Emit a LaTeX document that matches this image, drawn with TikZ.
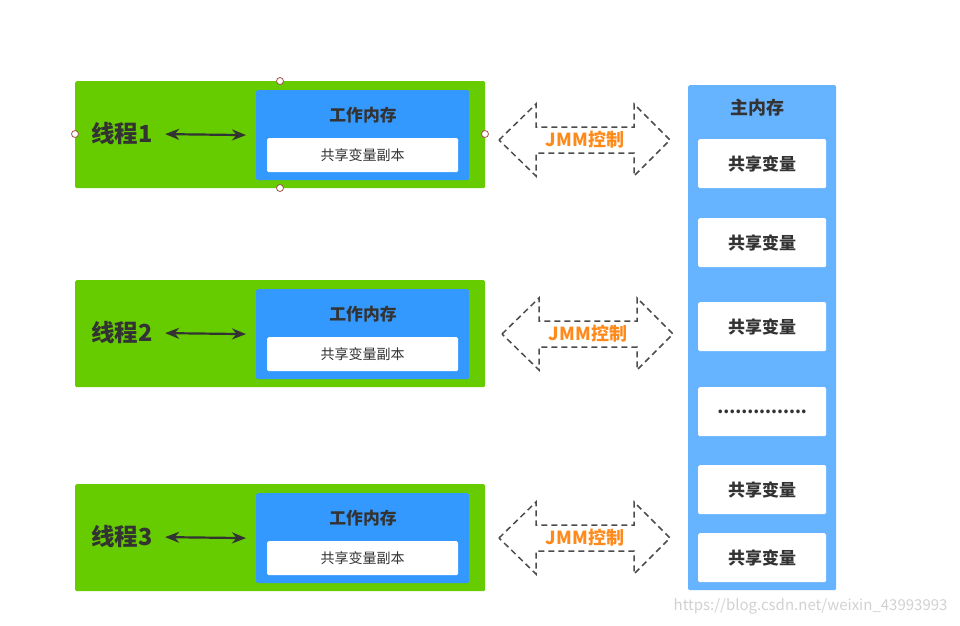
\documentclass[tikz,border=0pt]{standalone}
\usepackage{fontspec}
\newfontfamily\cjk{Noto Sans CJK SC}
\usetikzlibrary{arrows.meta}
\definecolor{thgreen}{HTML}{66CC00}
\definecolor{wmblue}{HTML}{3399FF}
\definecolor{mmblue}{HTML}{66B3FF}
\definecolor{txt}{HTML}{333333}
\definecolor{jmm}{HTML}{FF8A1C}
\definecolor{handle}{HTML}{A0524F}
\newcommand{\fs}[1]{\fontsize{#1}{#1}\selectfont}
\newcommand{\dotrow}{...............}

\begin{document}
\begin{tikzpicture}[x=1pt, y=-1pt, font=\cjk, text=txt,
    box/.style={draw=none, inner sep=0pt, anchor=north west, rounded corners=1.5pt},
    biarrow/.style={{Stealth[length=14pt,width=11pt]}-{Stealth[length=14pt,width=11pt]},
      line width=2.2pt, draw=txt, shorten <=9pt, shorten >=10pt},
    jmmarrow/.style={draw=black!70, line width=1.5pt, dash pattern=on 6pt off 4pt},
    sharebox/.style={box, fill=white, minimum width=128, minimum height=49,
      font=\cjk\bfseries\fs{17}}]
    \useasboundingbox (0,0) rectangle (960,625);
    % threads with their working memory
    \foreach \i/\y in {1/81, 2/280, 3/484}{
      \begin{scope}[shift={(0,\y)}]
        \node[box, fill=thgreen, minimum width=410, minimum height=107] (th\i) at (75,0) {};
        \node[box, fill=wmblue, minimum width=213, minimum height=90] (wm\i) at (256,9) {};
        \node[font=\cjk\bfseries\fs{16.8}] (wt\i) at (363,34) {工作内存};
        \node[box, fill=white, minimum width=191, minimum height=34,
          font=\cjk\fs{14}] (cp\i) at (267,57) {共享变量副本};
        \node[font=\cjk\bfseries\fs{23.5}] (nm\i) at (122,53) {线程\i};
        \draw[biarrow] (nm\i.east) -- (wm\i.west);
      \end{scope}
    }
    % selection handles
    \foreach \x/\y in {280/81, 75/134, 485/134, 280/188}{
      \draw[handle, fill=white, line width=0.8pt] (\x,\y) circle[radius=3.5];
    }
    % JMM arrows
    \foreach \i/\x/\y in {1/499/140, 2/502/334, 3/499/538}{
      \begin{scope}[shift={(\x,\y)}]
        \draw[jmmarrow] (0,0) -- (37,-36) -- (37,-13) -- (135,-13) -- (135,-36) --
          (171,0) -- (135,36) -- (135,13) -- (37,13) -- (37,36) -- cycle;
        \node[font=\cjk\bfseries\fs{18}, text=jmm] (jm\i) at (86,0) {JMM控制};
      \end{scope}
    }
    % main memory
    \node[box, fill=mmblue, minimum width=148, minimum height=505] (mm) at (688,85) {};
    \node[font=\cjk\bfseries\fs{18}] (mmt) at (757,108) {主内存};
    \foreach \i/\y/\t in {1/139/共享变量, 2/218/共享变量, 3/302/共享变量,
      4/387/\dotrow, 5/465/共享变量, 6/533/共享变量}{
      \node[sharebox] (sv\i) at (698,\y) {\t};
    }
    \node[anchor=east, text=black!18, font=\cjk\fs{15}] (wmk) at (951,606)
      {https://blog.csdn.net/weixin\_43993993};
\end{tikzpicture}
\end{document}
